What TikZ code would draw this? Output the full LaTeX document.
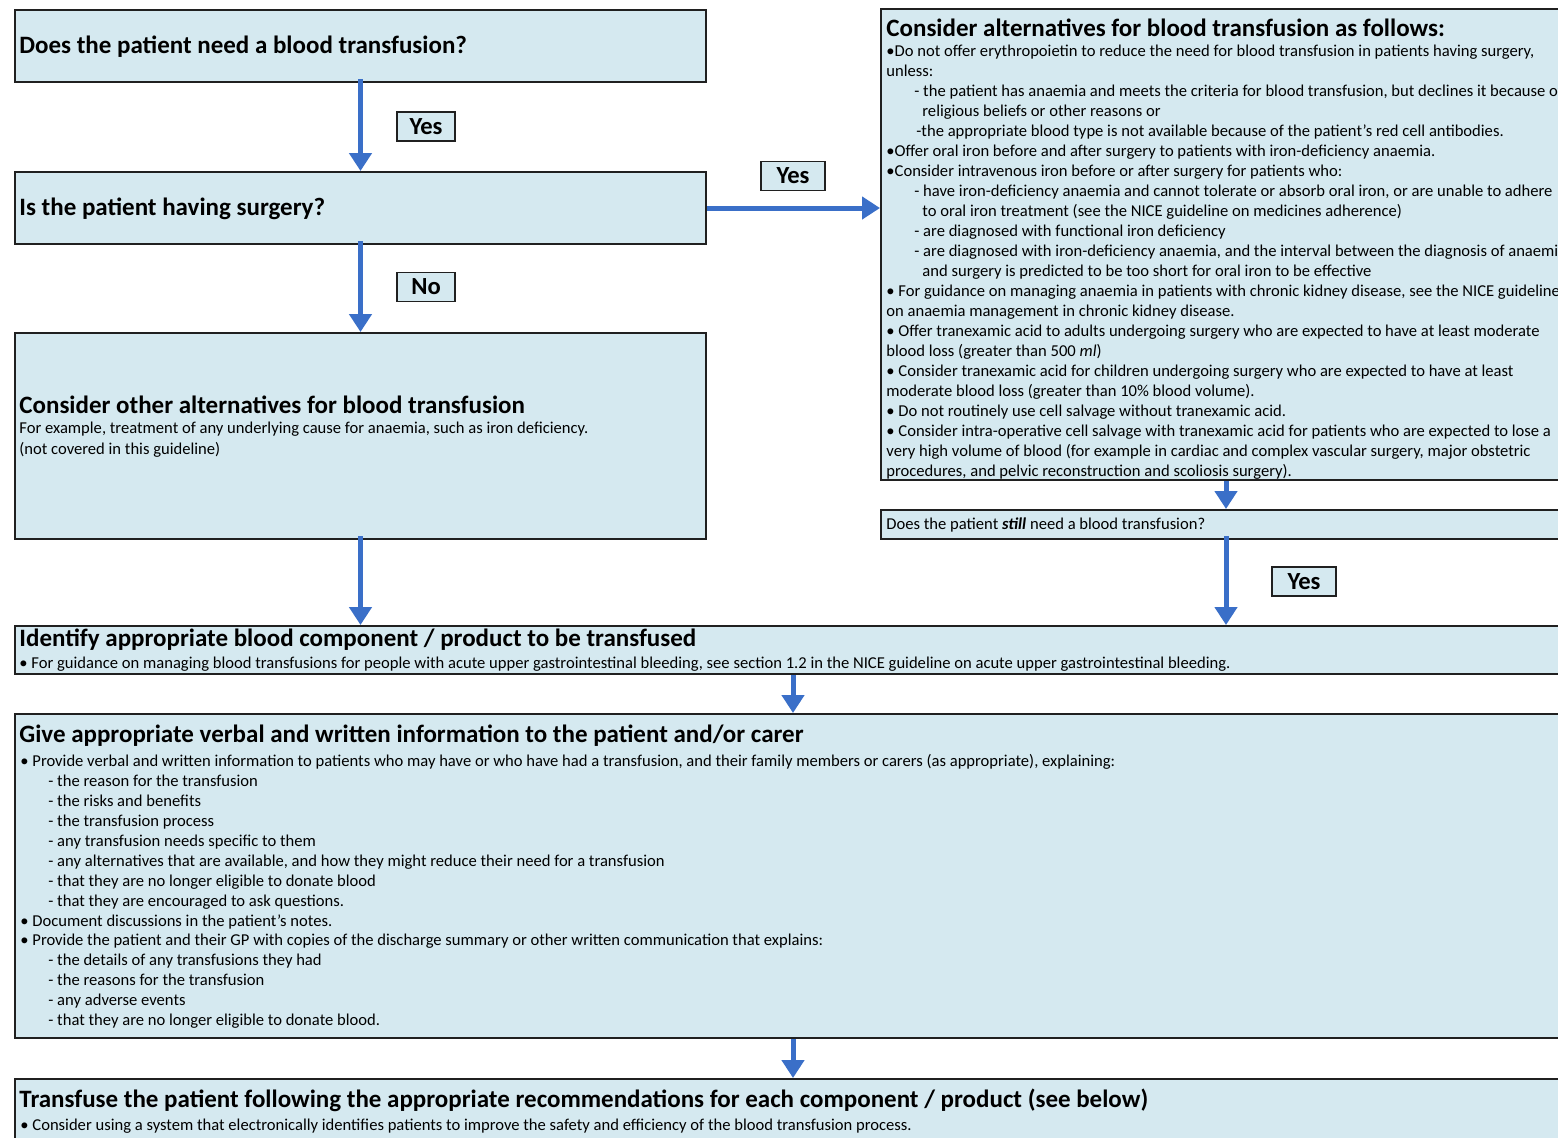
\documentclass[tikz,border=0pt]{standalone}
\usepackage{fontspec}
\setmainfont{Carlito}
\usetikzlibrary{arrows.meta}
\definecolor{boxfill}{HTML}{D5E9F0}
\definecolor{boxline}{HTML}{202020}
\definecolor{arrowblue}{HTML}{3A6FC8}
\tikzset{
 box/.style={draw=boxline, line width=1pt, fill=boxfill, inner sep=0pt, anchor=north west},
 lbl/.style={draw=boxline, line width=0.9pt, fill=boxfill, font=\bfseries\fontsize{12.3}{14}\selectfont, minimum height=14.5pt, inner sep=0pt},
 flow/.style={line width=2.5pt, draw=arrowblue, -{Triangle[width=11pt,length=9pt]}},
 head/.style={anchor=west, inner sep=0pt, font=\bfseries\fontsize{12.5}{15}\selectfont},
 body/.style={anchor=north west, inner sep=0pt, align=left, font=\fontsize{8.3}{10}\selectfont},
}
\begin{document}
\begin{tikzpicture}[x=0.5pt,y=-0.5pt]
\useasboundingbox (0,0) rectangle (1558,1137);
\clip (0,0) rectangle (1558,1137);
\fill[white] (0,0) rectangle (1558,1137);
% boxes
\node[box, minimum width=345.5pt, minimum height=36pt] (A) at (14,9) {};
\node[box, minimum width=345.5pt, minimum height=36pt] (B) at (14,171) {};
\node[box, minimum width=345.5pt, minimum height=103pt] (C) at (14,332) {};
\node[box, minimum width=345pt, minimum height=235.5pt] (R) at (880,8) {};
\node[box, minimum width=345pt, minimum height=14.5pt] (S) at (880,509) {};
\node[box, minimum width=778pt, minimum height=24pt] (I) at (14,625) {};
\node[box, minimum width=778pt, minimum height=162pt] (G) at (14,713) {};
\node[box, minimum width=778pt, minimum height=40pt] (T) at (14,1078) {};
% texts
\node[head] (tA) at (19,46.5) {Does the patient need a blood transfusion?};
\node[head] (tB) at (19,208.5) {Is the patient having surgery?};
\node[head] (tC) at (19,405) {Consider other alternatives for blood transfusion};
\node[body, font=\fontsize{8.3}{10.5}\selectfont] (bC) at (19,418) {\strut For example, treatment of any underlying cause for anaemia, such as iron deficiency.\\(not covered in this guideline)};
\node[head] (tR) at (886,28) {Consider alternatives for blood transfusion as follows:};
\node[body] (bR) at (886,42.5) {\strut •Do not offer erythropoietin to reduce the need for blood transfusion in patients having surgery,\\
unless:\\
\hspace*{14pt}- the patient has anaemia and meets the criteria for blood transfusion, but declines it because of\\
\hspace*{18pt}religious beliefs or other reasons or\\
\hspace*{15pt}-the appropriate blood type is not available because of the patient’s red cell antibodies.\\
•Offer oral iron before and after surgery to patients with iron-deficiency anaemia.\\
•Consider intravenous iron before or after surgery for patients who:\\
\hspace*{14pt}- have iron-deficiency anaemia and cannot tolerate or absorb oral iron, or are unable to adhere\\
\hspace*{18pt}to oral iron treatment (see the NICE guideline on medicines adherence)\\
\hspace*{14pt}- are diagnosed with functional iron deficiency\\
\hspace*{14pt}- are diagnosed with iron-deficiency anaemia, and the interval between the diagnosis of anaemia\\
\hspace*{18pt}and surgery is predicted to be too short for oral iron to be effective\\
• For guidance on managing anaemia in patients with chronic kidney disease, see the NICE guideline\\
on anaemia management in chronic kidney disease.\\
• Offer tranexamic acid to adults undergoing surgery who are expected to have at least moderate\\
blood loss (greater than 500 \textit{ml})\\
• Consider tranexamic acid for children undergoing surgery who are expected to have at least\\
moderate blood loss (greater than 10\% blood volume).\\
• Do not routinely use cell salvage without tranexamic acid.\\
• Consider intra-operative cell salvage with tranexamic acid for patients who are expected to lose a\\
very high volume of blood (for example in cardiac and complex vascular surgery, major obstetric\\
procedures, and pelvic reconstruction and scoliosis surgery).};
\node[anchor=west, inner sep=0pt, font=\fontsize{8.3}{10}\selectfont] (tS) at (886,524.5) {Does the patient \textbf{\textit{still}} need a blood transfusion?};
\node[head] (tI) at (19,640) {Identify appropriate blood component / product to be transfused};
\node[body] (bI) at (19,654.5) {\strut • For guidance on managing blood transfusions for people with acute upper gastrointestinal bleeding, see section 1.2 in the NICE guideline on acute upper gastrointestinal bleeding.};
\node[head] (tG) at (19,736) {Give appropriate verbal and written information to the patient and/or carer};
\node[body, font=\fontsize{8.3}{9.95}\selectfont] (bG) at (20,752.5) {\strut • Provide verbal and written information to patients who may have or who have had a transfusion, and their family members or carers (as appropriate), explaining:\\
\hspace*{14pt}- the reason for the transfusion\\
\hspace*{14pt}- the risks and benefits\\
\hspace*{14pt}- the transfusion process\\
\hspace*{14pt}- any transfusion needs specific to them\\
\hspace*{14pt}- any alternatives that are available, and how they might reduce their need for a transfusion\\
\hspace*{14pt}- that they are no longer eligible to donate blood\\
\hspace*{14pt}- that they are encouraged to ask questions.\\
• Document discussions in the patient’s notes.\\
• Provide the patient and their GP with copies of the discharge summary or other written communication that explains:\\
\hspace*{14pt}- the details of any transfusions they had\\
\hspace*{14pt}- the reasons for the transfusion\\
\hspace*{14pt}- any adverse events\\
\hspace*{14pt}- that they are no longer eligible to donate blood.};
\node[head] (tT) at (19,1100) {Transfuse the patient following the appropriate recommendations for each component / product (see below)};
\node[body] (bT) at (20,1116.5) {\strut • Consider using a system that electronically identifies patients to improve the safety and efficiency of the blood transfusion process.};
% connector columns
\coordinate (rs) at (1226,0);
\coordinate (mid) at (793,0);
% arrows
\draw[flow] ([yshift=2pt]A.south) -- (B.north);
\draw[flow] ([yshift=2pt]B.south) -- (C.north);
\draw[flow] (B.east) -- (B.east -| R.west);
\draw[flow] ([yshift=2pt]C.south) -- (C.south |- I.north);
\draw[flow] (rs |- R.south) -- (rs |- S.north);
\draw[flow] ([yshift=2pt]rs |- S.south) -- (rs |- I.north);
\draw[flow] (mid |- I.south) -- (mid |- G.north);
\draw[flow] (mid |- G.south) -- (mid |- T.north);
% labels
\node[lbl, minimum width=29pt] (y1) at (426,126.5) {Yes};
\node[lbl, minimum width=32pt] (y2) at (793,176) {Yes};
\node[lbl, minimum width=29pt] (n1) at (426,287) {No};
\node[lbl, minimum width=32pt] (y3) at (1304,581.5) {Yes};
\end{tikzpicture}
\end{document}
